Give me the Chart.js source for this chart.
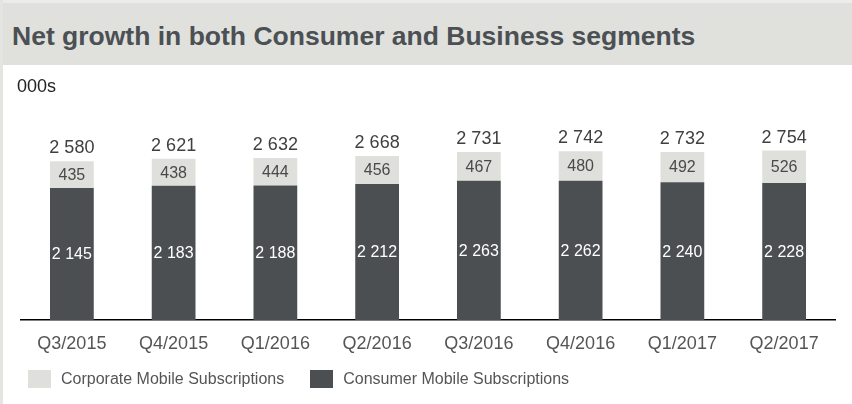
<!DOCTYPE html>
<html>
<head>
<meta charset="utf-8">
<script src="https://cdn.jsdelivr.net/npm/chart.js@4/dist/chart.umd.min.js"></script>
<style>
  html, body { margin: 0; padding: 0; background: #fff; }
  #page { position: relative; width: 852px; height: 404px; overflow: hidden; }
  #frame { position: absolute; left: 0; top: 0; width: 3px; height: 404px; background: #e4e4e0; }
  #topline { position: absolute; left: 0; top: 0; width: 852px; height: 3px; background: #ececea; }
  #title { position: absolute; left: 3px; top: 3px; width: 849px; height: 62px; background: #e0e0dc;
           font: bold 26.5px "Liberation Sans", Arial, sans-serif; color: #4b5054; line-height: 66px;
           box-sizing: border-box; padding-left: 9px; overflow: hidden; white-space: nowrap; }
  #unit { position: absolute; left: 17px; top: 76px; font: 18px "Liberation Sans", Arial, sans-serif; color: #222; }
  #wrap { position: absolute; left: 3px; top: 65px; width: 849px; height: 339px; }
  #legend { position: absolute; left: 28px; top: 370px; margin: 0; padding: 0; list-style: none;
            font: 16px "Liberation Sans", Arial, sans-serif; color: #555; }
  #legend li { float: left; height: 18px; line-height: 18px; margin-right: 26px; }
  #legend span { display: inline-block; width: 23px; height: 18px; vertical-align: top; margin-right: 10px; }
</style>
</head>
<body>
<div id="page">
  <div id="topline"></div>
  <div id="frame"></div>
  <div id="title">Net growth in both Consumer and Business segments</div>
  <div id="wrap"><canvas id="growthChart"></canvas></div>
  <div id="unit">000s</div>
  <ul id="legend"></ul>
</div>
<script>
var quarters = ['Q3/2015', 'Q4/2015', 'Q1/2016', 'Q2/2016', 'Q3/2016', 'Q4/2016', 'Q1/2017', 'Q2/2017'];
var consumerSubs = [2145, 2183, 2188, 2212, 2263, 2262, 2240, 2228];
var corporateSubs = [435, 438, 444, 456, 467, 480, 492, 526];
var totalSubs = [2580, 2621, 2632, 2668, 2731, 2742, 2732, 2754];

var darkGrey = '#4b4f52';
var lightGrey = '#dfdfdb';
var fontName = '"Liberation Sans", Arial, sans-serif';

function fmt(n) {
    return String(n).replace(/\B(?=(\d{3})+(?!\d))/g, ' ');
}

// writes the numbers inside the bars and the totals above them
var valueLabels = {
    id: 'valueLabels',
    afterDatasetsDraw: function (chart) {
        var ctx = chart.ctx;
        ctx.save();
        ctx.textAlign = 'center';
        ctx.textBaseline = 'middle';
        chart.data.datasets.forEach(function (ds, i) {
            var meta = chart.getDatasetMeta(i);
            meta.data.forEach(function (bar, j) {
                ctx.font = '16px ' + fontName;
                ctx.fillStyle = i === 0 ? '#ffffff' : '#4a4a4a';
                ctx.fillText(fmt(ds.data[j]), bar.x, (bar.y + bar.base) / 2 + 1);
            });
        });
        var top = chart.getDatasetMeta(1);
        ctx.font = '18px ' + fontName;
        ctx.fillStyle = '#404040';
        top.data.forEach(function (bar, j) {
            ctx.fillText(fmt(totalSubs[j]), bar.x, bar.y - 13);
        });
        ctx.restore();
    }
};

// legend built from the chart's own legend items, corporate first
var htmlLegend = {
    id: 'htmlLegend',
    afterUpdate: function (chart) {
        var ul = document.getElementById('legend');
        ul.innerHTML = '';
        var items = chart.options.plugins.legend.labels.generateLabels(chart).reverse();
        items.forEach(function (item) {
            var li = document.createElement('li');
            var box = document.createElement('span');
            box.style.background = item.fillStyle;
            li.appendChild(box);
            li.appendChild(document.createTextNode(item.text));
            ul.appendChild(li);
        });
    }
};

var ctx = document.getElementById('growthChart').getContext('2d');
var chart = new Chart(ctx, {
    type: 'bar',
    data: {
        labels: quarters,
        datasets: [{
            label: 'Consumer Mobile Subscriptions',
            backgroundColor: darkGrey,
            data: consumerSubs
        }, {
            label: 'Corporate Mobile Subscriptions',
            backgroundColor: lightGrey,
            data: corporateSubs
        }]
    },
    options: {
        responsive: true,
        maintainAspectRatio: false,
        animation: false,
        datasets: { bar: { categoryPercentage: 1, barPercentage: 0.43 } },
        layout: { padding: { left: 18, right: 17, top: 52, bottom: 0 } },
        scales: {
            x: {
                stacked: true,
                grid: { display: false, drawTicks: false },
                border: { display: true, color: '#000', width: 1.5 },
                ticks: { color: '#555', font: { family: fontName, size: 18 }, padding: 13 },
                afterFit: function (scale) { scale.height = 84; }
            },
            y: {
                stacked: true,
                display: false,
                min: 0,
                max: 3300
            }
        },
        plugins: {
            tooltip: { enabled: false },
            legend: { display: false }
        }
    },
    plugins: [valueLabels, htmlLegend]
});
</script>
</body>
</html>
